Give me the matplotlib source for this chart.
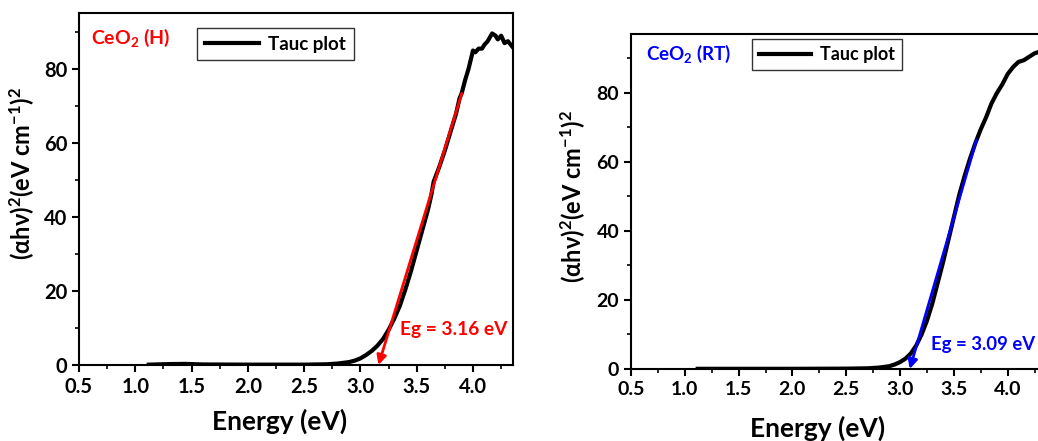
"""
Tauc plots for CeO2 (H) and CeO2 (RT) with linear fits to the absorption edge.
"""

import matplotlib
matplotlib.use("Agg")
import matplotlib.pyplot as plt
from matplotlib.ticker import MultipleLocator

plt.rcParams["font.family"] = ["Lato", "DejaVu Sans"]
plt.rcParams["font.weight"] = "bold"
plt.rcParams["mathtext.fontset"] = "custom"
plt.rcParams["mathtext.rm"] = "Lato:bold"
plt.rcParams["mathtext.bf"] = "Lato:bold"
plt.rcParams["mathtext.default"] = "rm"

# CeO2 (H) tauc curve
energy_h = [1.12, 1.3, 1.45, 1.6, 2.0, 2.5, 2.7, 2.8, 2.9, 2.95, 3.0, 3.05, 3.1,
            3.15, 3.2, 3.25, 3.3, 3.35, 3.4, 3.45, 3.5, 3.55, 3.6, 3.63, 3.65,
            3.7, 3.75, 3.8, 3.85, 3.88, 3.9, 3.93, 3.96, 4.0, 4.02, 4.05, 4.08,
            4.1, 4.13, 4.17, 4.2, 4.22, 4.25, 4.28, 4.31, 4.35]
tauc_h = [0.1, 0.25, 0.3, 0.15, 0.1, 0.1, 0.2, 0.4, 0.8, 1.2, 1.8, 2.7, 3.8,
          5.2, 7.0, 9.5, 12.5, 16, 20.5, 25.5, 31, 36.5, 42, 46, 49.5,
          53.5, 58, 63, 68, 72, 73.5, 77, 80, 85, 84.5, 85.5, 85.5,
          86.5, 87.5, 89.6, 89, 88, 89, 87, 87.5, 86]
fit_h_x = [3.90, 3.16]
fit_h_y = [73.4, 0.0]
eg_h = 3.16

# CeO2 (RT) tauc curve
energy_rt = [1.12, 1.5, 2.0, 2.5, 2.7, 2.8, 2.9, 2.95, 3.0, 3.05, 3.1, 3.15,
             3.2, 3.25, 3.3, 3.35, 3.4, 3.45, 3.5, 3.55, 3.6, 3.65, 3.7, 3.75,
             3.8, 3.85, 3.9, 3.95, 4.0, 4.05, 4.1, 4.15, 4.2, 4.25, 4.3]
tauc_rt = [0.05, 0.05, 0.05, 0.1, 0.2, 0.4, 0.8, 1.3, 2.0, 3.0, 4.5, 6.8,
           10, 14, 19, 25, 31, 37.5, 44, 50.5, 56, 61, 65.5, 69.5,
           73, 77, 80, 82.5, 85.5, 87.5, 89, 89.5, 90.5, 91.5, 92]
fit_rt_x = [3.71, 3.09]
fit_rt_y = [66.4, 0.0]
eg_rt = 3.09

xticks = [0.5, 1.0, 1.5, 2.0, 2.5, 3.0, 3.5, 4.0]
yticks = [0, 20, 40, 60, 80]

YLABEL = "(αhν)$^2$(eV cm$^{-1}$)$^2$"


def style_axes(ax, xmax, ymax, ts):
    ax.set_xlim(0.5, xmax)
    ax.set_ylim(0, ymax)
    ax.set_xticks(xticks)
    ax.set_yticks(yticks)
    ax.xaxis.set_minor_locator(MultipleLocator(0.25))
    ax.yaxis.set_minor_locator(MultipleLocator(10))
    ax.tick_params(which="major", direction="out", length=5, width=1.5,
                   labelsize=ts)
    ax.tick_params(which="minor", direction="out", length=3, width=1.2)
    for lab in ax.get_xticklabels() + ax.get_yticklabels():
        lab.set_fontweight("bold")
    for sp in ax.spines.values():
        sp.set_linewidth(1.5)


def panel(ax, x, y, fx, fy, eg, color, xmax, ymax, eg_pos, fs, ts,
          xlab_xy, ylab_xy):
    ax.plot(x, y, color="black", lw=3, label="Tauc plot", zorder=2)
    ax.annotate("", xy=(fx[1], fy[1]), xytext=(fx[0], fy[0]),
                arrowprops=dict(arrowstyle="-|>", color=color, lw=2,
                                mutation_scale=14, shrinkA=0, shrinkB=0),
                zorder=3, annotation_clip=False)
    ax.text(eg_pos[0], eg_pos[1], f"Eg = {eg:.2f} eV", color=color,
            fontsize=fs, fontweight="bold", va="center", ha="left")
    style_axes(ax, xmax, ymax, ts)
    ax.set_xlabel("Energy (eV)", fontsize=19, fontweight="bold")
    ax.xaxis.set_label_coords(*xlab_xy)
    ax.set_ylabel(YLABEL, fontsize=17, fontweight="bold")
    ax.yaxis.set_label_coords(*ylab_xy)


fig = plt.figure(figsize=(10.38, 4.41), dpi=100)

ax1 = fig.add_axes([0.0761, 0.1723, 0.4181, 0.798])
panel(ax1, energy_h, tauc_h, fit_h_x, fit_h_y, eg_h, "red",
      4.355, 95.1, (3.35, 9.5), 13.8, 14.5, (0.463, -0.125), (-0.097, 0.545))
ax1.text(0.028, 0.93, "CeO$_2$ (H)", transform=ax1.transAxes, color="red",
         fontsize=14, fontweight="bold", va="center")
leg1 = ax1.legend(loc="upper left", bbox_to_anchor=(0.272, 0.957),
                  borderaxespad=0, frameon=True, fancybox=False,
                  edgecolor="black", prop={"size": 13.5, "weight": "bold"},
                  handlelength=2.9, borderpad=0.4, handletextpad=0.5)
leg1.get_frame().set_linewidth(1.0)

ax2 = fig.add_axes([0.6079, 0.1633, 0.394, 0.7596])
panel(ax2, energy_rt, tauc_rt, fit_rt_x, fit_rt_y, eg_rt, "blue",
      4.30, 97.1, (3.29, 7.2), 13.3, 14, (0.455, -0.14), (-0.105, 0.516))
ax2.text(0.036, 0.94, "CeO$_2$ (RT)", transform=ax2.transAxes, color="blue",
         fontsize=13.5, fontweight="bold", va="center")
leg2 = ax2.legend(loc="upper left", bbox_to_anchor=(0.295, 0.985),
                  borderaxespad=0, frameon=True, fancybox=False,
                  edgecolor="black", prop={"size": 13, "weight": "bold"},
                  handlelength=2.9, borderpad=0.4, handletextpad=0.5)
leg2.get_frame().set_linewidth(1.0)

fig.savefig("out.png", dpi=100)
